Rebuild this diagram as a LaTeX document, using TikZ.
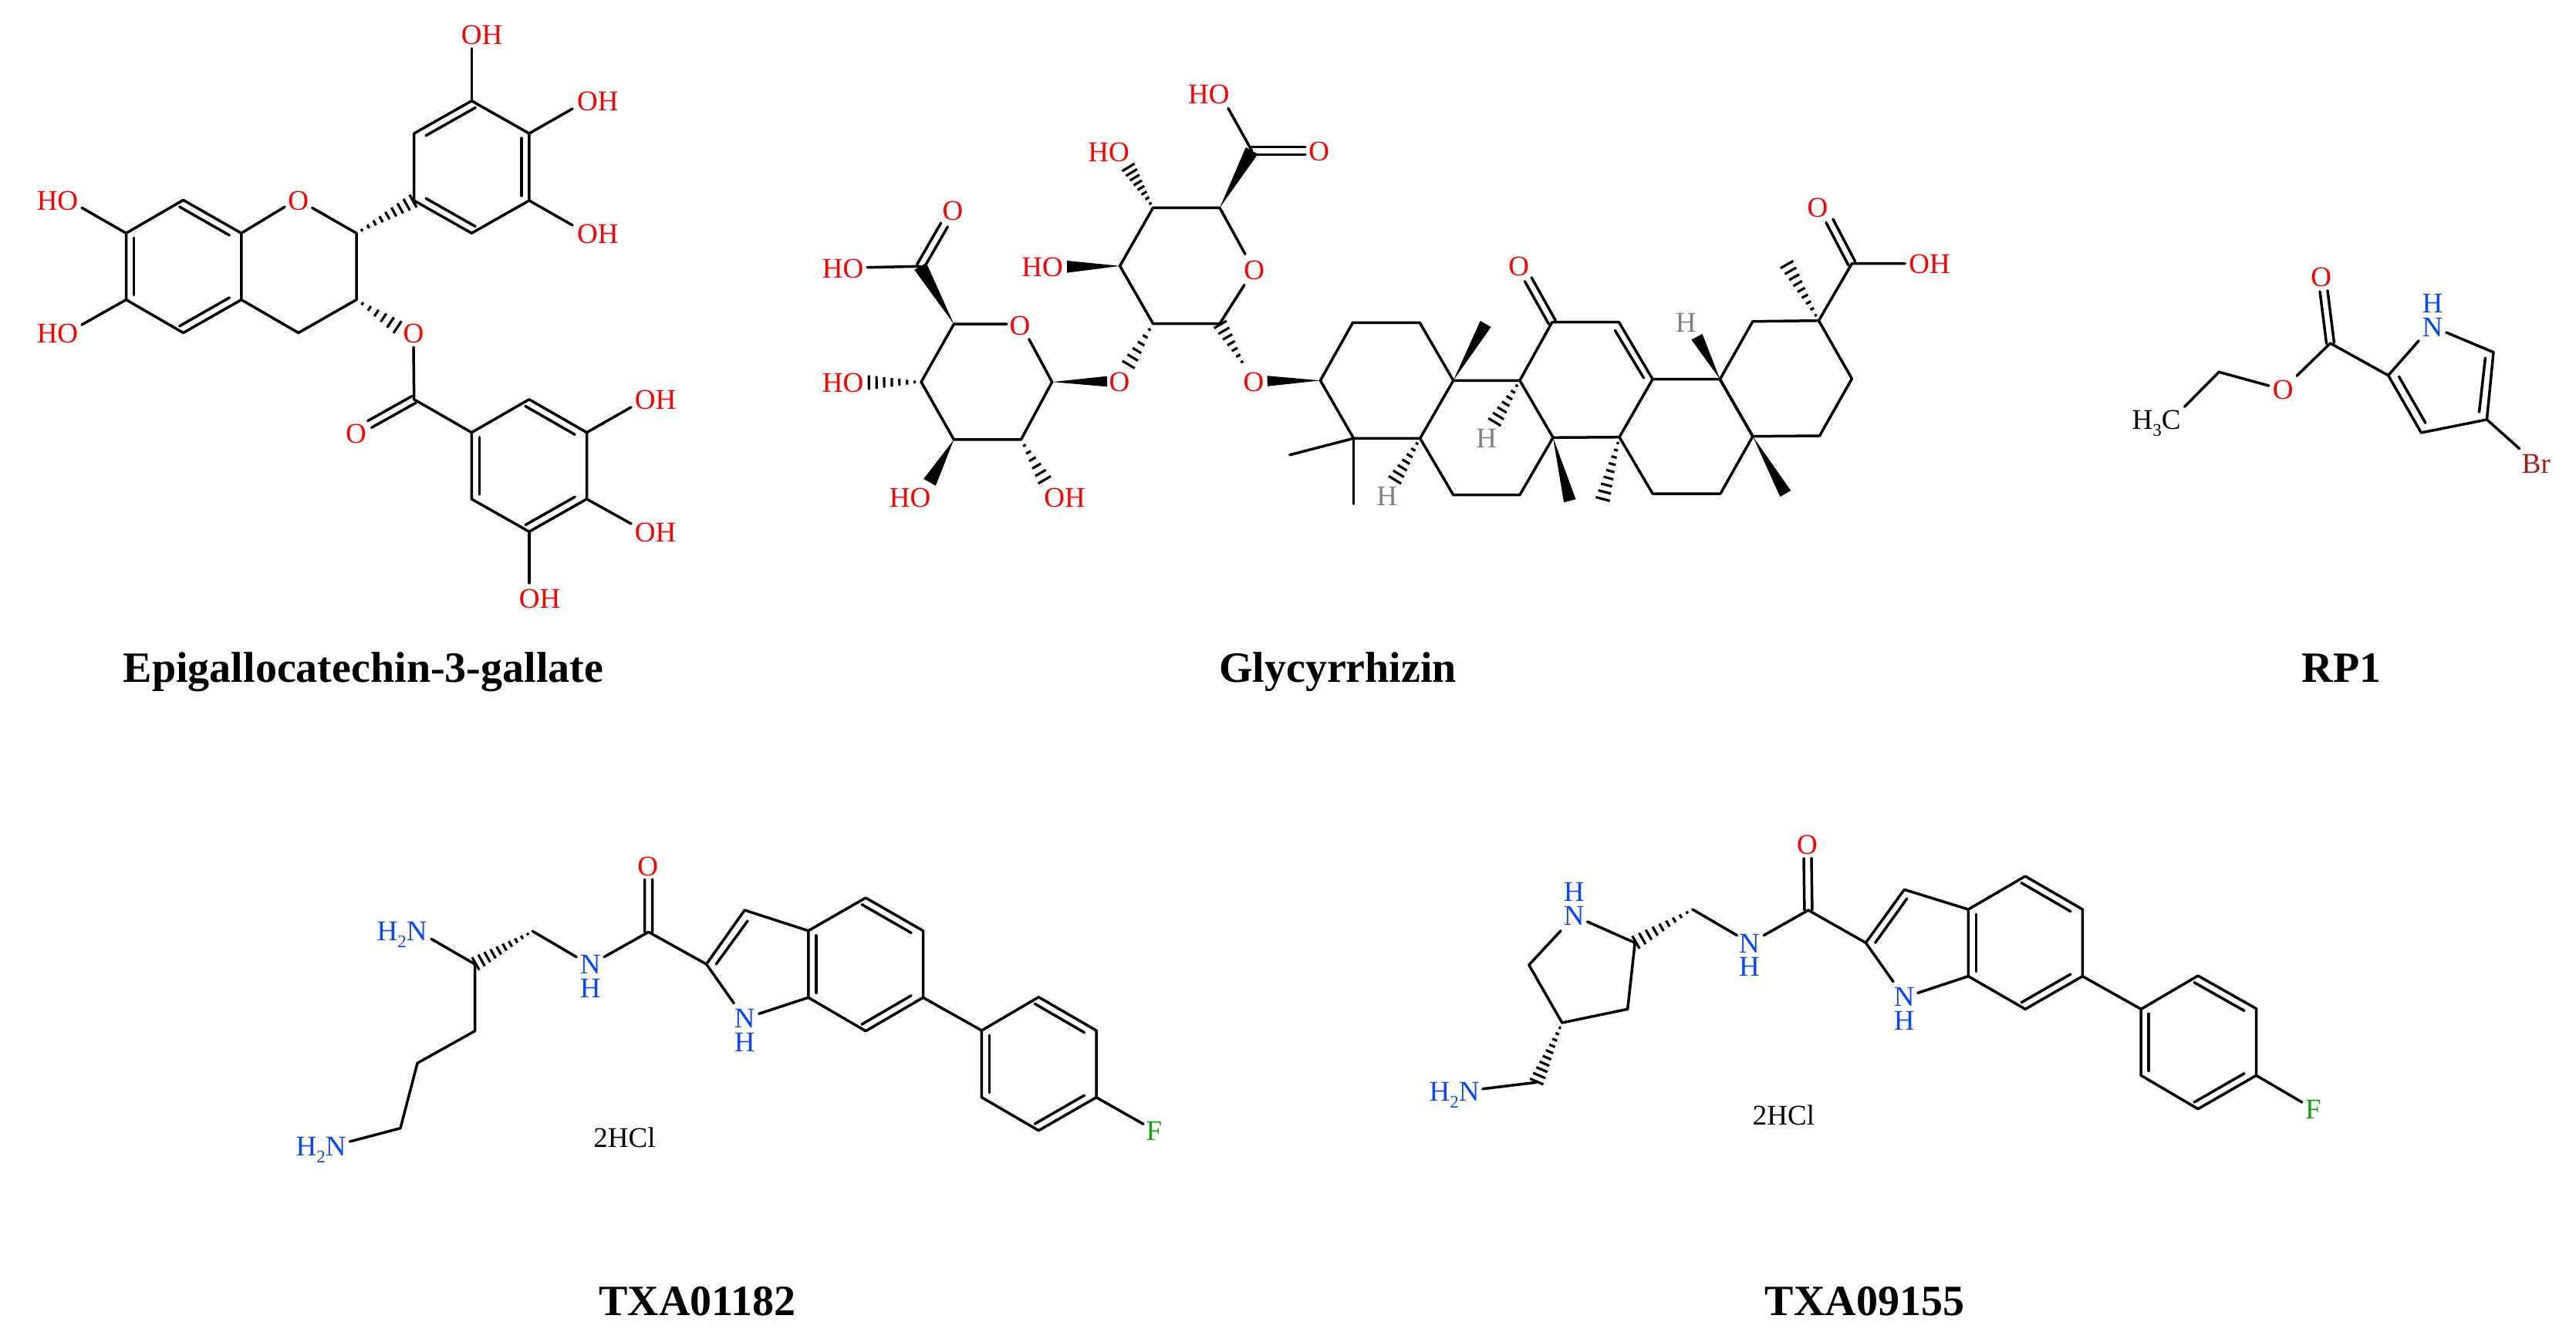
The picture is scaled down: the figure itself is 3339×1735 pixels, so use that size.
\documentclass[tikz,border=0pt]{standalone}
\usepackage{fontspec}
\setmainfont{Liberation Serif}
\usetikzlibrary{calc}
\definecolor{oxred}{RGB}{255,0,0}
\definecolor{nblue}{RGB}{10,70,255}
\definecolor{fgreen}{RGB}{18,160,18}
\definecolor{brred}{RGB}{168,24,24}
\definecolor{hgray}{RGB}{128,128,128}
\newcommand{\atm}[3]{\coordinate (#1) at (#2,#3);}
\newcommand{\sbs}[1]{\raisebox{-0.25em}{\fontsize{11.5}{12}\selectfont #1}}
% hashed bond: narrow end, wide end, stripes
\newcommand{\hashb}[3]{%
  \foreach \hi in {1,...,#3}{%
    \pgfmathsetmacro\hshT{(\hi-0.15)/#3}%
    \pgfmathsetmacro\hshW{0.4+4.4*\hshT}%
    \draw[hashst] ($(#1)!\hshT!(#2)!\hshW pt!90:(#1)$) -- ($(#1)!\hshT!(#2)!\hshW pt!-90:(#1)$);
  }}
% solid wedge: tip, base, half width
\newcommand{\wedgeb}[3]{%
  \fill[black] (#1) -- ($(#2)!#3!90:(#1)$) -- ($(#2)!#3!-90:(#1)$) -- cycle;}
% inner line of a ring double bond: from, to, side angle, t0, t1
\newcommand{\dbl}[5]{%
  \draw[bond] ($(#1)!#4!(#2)!5pt!#3:(#2)$) -- ($(#1)!#5!(#2)!5pt!#3:(#2)$);}
% symmetric double bond
\newcommand{\dbo}[2]{%
  \draw[bond] ($(#1)!2.5pt!90:(#2)$) -- ($(#2)!2.5pt!-90:(#1)$);
  \draw[bond] ($(#1)!2.5pt!-90:(#2)$) -- ($(#2)!2.5pt!90:(#1)$);}
\tikzset{
  bond/.style={line width=1.75pt,line cap=round,line join=round,black},
  hashst/.style={line width=1.6pt,line cap=butt,black},
  lab/.style={inner sep=0pt,outer sep=0pt,text height=12.2pt,text depth=0pt,font=\fontsize{18.5}{20}\selectfont},
  labO/.style={lab,text=oxred},
  labN/.style={lab,text=nblue},
  labNH/.style={inner sep=0pt,outer sep=0pt,align=center,text=nblue,font=\fontsize{18.5}{15.4}\selectfont},
  labH/.style={lab,text=hgray},
  labF/.style={lab,text=fgreen},
  labBr/.style={lab,text=brred},
  labK/.style={lab,text=black},
  title/.style={inner sep=0pt,outer sep=0pt,text height=18.5pt,text depth=0pt,font=\fontsize{28}{30}\selectfont\bfseries,text=black},
}
\begin{document}
\begin{tikzpicture}[x=0.5pt,y=-0.5pt]
\path[use as bounding box,fill=white] (0,0) rectangle (3339,1735);

%%% Epigallocatechin-3-gallate
\atm{a1}{163.5}{302.3}\atm{a2}{237.6}{259.4}\atm{a3}{312.8}{302.3}\atm{a4}{312.8}{388.6}\atm{a5}{237.6}{431.5}\atm{a6}{163.5}{388.6}
\atm{eO1a}{369}{268.3}\atm{eO1b}{404.6}{269.4}\atm{eC2}{462}{302.3}\atm{eC3}{462}{388.6}\atm{eC4}{386.8}{431.5}
\atm{b1}{536.7}{260}\atm{b2}{536.7}{173}\atm{b3}{611.3}{130.8}\atm{b4}{685.9}{173}\atm{b5}{685.9}{260}\atm{b6}{611.3}{302.3}
\atm{e1}{611.3}{62.8}\atm{e2}{742}{141}\atm{e3}{742}{292}\atm{e4}{106}{269.3}\atm{e5}{106}{421}
\atm{eH}{516.6}{425}\atm{eOs}{536}{450}\atm{eC}{536.7}{517.8}\atm{eOd}{479.2}{550}
\atm{g1}{611.3}{560.7}\atm{g2}{685.9}{517.8}\atm{g3}{760.5}{560.7}\atm{g4}{760.5}{647}\atm{g5}{685.9}{689.3}\atm{g6}{611.3}{647}
\atm{e6}{818}{528}\atm{e7}{818}{679}\atm{e8}{685.9}{755.8}
\node[labO] (eLO1) at (386.8,259.9) {O};
\node[labO] (eL1) at (624.5,45.5) {OH};
\node[labO] (eL2) at (774.9,130.8) {OH};
\node[labO] (eL3) at (774.9,303) {OH};
\node[labO] (eL4) at (74.5,260) {HO};
\node[labO] (eL5) at (74.5,432.5) {HO};
\node[labO] (eLO2) at (536,432.5) {O};
\node[labO] (eLO3) at (461.4,562) {O};
\node[labO] (eL6) at (849.5,517.8) {OH};
\node[labO] (eL7) at (849.5,690.4) {OH};
\node[labO] (eL8) at (699.7,776) {OH};
\draw[bond] (a1)--(a2)--(a3)--(a4)--(a5)--(a6)--cycle;
\draw[bond] (a3)--(eO1a);
\draw[bond] (eO1b)--(eC2)--(eC3)--(eC4)--(a4);
\draw[bond] (b1)--(b2)--(b3)--(b4)--(b5)--(b6)--cycle;
\draw[bond] (g1)--(g2)--(g3)--(g4)--(g5)--(g6)--cycle;
\draw[bond] (b3)--(e1);\draw[bond] (b4)--(e2);\draw[bond] (b5)--(e3);
\draw[bond] (a1)--(e4);\draw[bond] (a6)--(e5);
\draw[bond] (eOs)--(eC)--(g1);
\draw[bond] (g3)--(e6);\draw[bond] (g4)--(e7);\draw[bond] (g5)--(e8);
\dbo{eC}{eOd}
\dbl{a2}{a3}{-90}{0}{0.86}\dbl{a5}{a4}{90}{0}{0.86}\dbl{a1}{a6}{90}{0.07}{0.93}
\dbl{b3}{b2}{90}{0}{0.86}\dbl{b6}{b1}{-90}{0}{0.86}\dbl{b4}{b5}{-90}{0.07}{0.93}
\dbl{g2}{g3}{-90}{0}{0.86}\dbl{g5}{g4}{90}{0}{0.86}\dbl{g1}{g6}{90}{0.07}{0.93}
\hashb{eC2}{b1}{9}
\hashb{eC3}{eH}{6}

%%% Glycyrrhizin, sugars
\atm{u1}{1494.5}{269.4}\atm{u2}{1581}{269.4}\atm{u3}{1581}{419.5}\atm{u4}{1494.5}{419.5}\atm{u5}{1451.6}{344.8}
\atm{uOa}{1614}{329.5}\atm{uOb}{1613}{369.3}
\atm{uC}{1622.6}{195.4}\atm{uCe}{1692}{195.4}\atm{uHe}{1592}{140.5}
\atm{uH1}{1462}{216}\atm{uH2}{1383}{345.8}\atm{uH3}{1462}{474}\atm{uH4}{1613.7}{476}
\atm{tC}{1711.4}{493.3}\atm{tW}{1642.7}{494}
\atm{l1}{1236.4}{420.2}\atm{lOa}{1305}{420.2}\atm{lOb}{1333.8}{439.7}\atm{l2}{1363.7}{495.2}\atm{l3}{1323.5}{569.9}\atm{l4}{1236.4}{569.9}\atm{l5}{1194}{495.2}
\atm{lC}{1193}{345.3}\atm{lCe}{1224}{291.5}\atm{lHe}{1124}{346.7}
\atm{lH1}{1124.8}{496}\atm{lH2}{1205}{625.3}\atm{lH3}{1354.7}{623.4}\atm{lW}{1435}{494.5}
\node[labO] (gO1) at (1625.7,349.8) {O};
\node[labO] (gO2) at (1709.6,196.7) {O};
\node[labO] (gL1) at (1566.8,122) {HO};
\node[labO] (gL2) at (1437,197.5) {HO};
\node[labO] (gL3) at (1351,346) {HO};
\node[labO] (gO3) at (1451,495) {O};
\node[labO] (gO4) at (1625,495) {O};
\node[labO] (gO5) at (1322,421.8) {O};
\node[labO] (gO6) at (1235,273) {O};
\node[labO] (gL4) at (1092.7,347.9) {HO};
\node[labO] (gL5) at (1092.7,496.4) {HO};
\node[labO] (gL6) at (1179.7,645.3) {HO};
\node[labO] (gL7) at (1380,645.3) {OH};
\draw[bond] (uOa)--(u2)--(u1)--(u5)--(u4)--(u3)--(uOb);
\draw[bond] (uC)--(uHe);
\dbo{uC}{uCe}
\wedgeb{u2}{uC}{4.5pt}
\hashb{u1}{uH1}{8}
\wedgeb{u5}{uH2}{3.9pt}
\hashb{u4}{uH3}{6}
\hashb{uH4}{u3}{7}
\wedgeb{tC}{tW}{3.4pt}
\draw[bond] (lOa)--(l1)--(l5)--(l4)--(l3)--(l2)--(lOb);
\draw[bond] (lC)--(lHe);
\dbo{lC}{lCe}
\wedgeb{l1}{lC}{4.5pt}
\hashb{l5}{lH1}{7}
\wedgeb{l4}{lH2}{4.5pt}
\hashb{l3}{lH3}{6}
\wedgeb{l2}{lW}{3.4pt}

%%% Glycyrrhizin, triterpene
\atm{A2}{1753.5}{418.3}\atm{A3}{1840.2}{418.3}\atm{A4}{1883.8}{493.3}\atm{A5}{1840.7}{568.3}\atm{A6}{1754.6}{568.3}
\atm{B1}{1883.8}{641.7}\atm{B2}{1969.9}{641.7}\atm{B3}{2013}{567.3}\atm{B4}{1969.9}{493.3}
\atm{C1}{2011.8}{417.7}\atm{C2}{2098.5}{417.7}\atm{C3}{2142.1}{491.7}\atm{C4}{2099}{566.7}
\atm{D1}{2142.1}{640}\atm{D2}{2230}{640}\atm{D3}{2271.9}{565.7}\atm{D4}{2229.4}{491.7}
\atm{E1}{2271.9}{416.7}\atm{E2}{2357.4}{415.7}\atm{E3}{2400.4}{491}\atm{E4}{2358.5}{565}
\atm{Me1}{1671.7}{589.8}\atm{Me2}{1754.6}{653.3}\atm{Me3}{1925.7}{420}\atm{Me4}{2034.8}{649.3}\atm{Me5}{2077.2}{648.3}\atm{Me6}{2314.3}{640}\atm{Me7}{2315.5}{341.7}
\atm{Hb1}{1936.6}{548.3}\atm{Hb2}{1807.4}{623.3}\atm{Hb3}{2199.5}{436.7}
\atm{C1e}{1980.8}{362.3}\atm{Cx}{2400.4}{341.7}\atm{Cxe}{2371.4}{286.3}\atm{Cxh}{2469.3}{341.7}
\atm{Cia}{2093.3}{428.3}\atm{Cib}{2130.6}{490}
\node[labO] (tO1) at (1968.7,345) {O};
\node[labO] (tO2) at (2356,269) {O};
\node[labO] (tL1) at (2501,342.3) {OH};
\node[labH] (tH1) at (1926.8,568.3) {H};
\node[labH] (tH2) at (1797.7,643.3) {H};
\node[labH] (tH3) at (2185.2,418.3) {H};
\draw[bond] (tC)--(A2)--(A3)--(A4)--(A5)--(A6)--cycle;
\draw[bond] (A4)--(B4)--(B3)--(B2)--(B1)--(A5);
\draw[bond] (B4)--(C1)--(C2)--(C3)--(C4)--(B3);
\draw[bond] (C3)--(D4)--(D3)--(D2)--(D1)--(C4);
\draw[bond] (D4)--(E1)--(E2)--(E3)--(E4)--(D3)--(D4);
\draw[bond] (A6)--(Me1);\draw[bond] (A6)--(Me2);
\draw[bond] (Cia)--(Cib);
\draw[bond] (E2)--(Cx)--(Cxh);
\dbo{C1}{C1e}\dbo{Cx}{Cxe}
\wedgeb{A4}{Me3}{4pt}
\wedgeb{B3}{Me4}{4pt}
\wedgeb{D3}{Me6}{4pt}
\wedgeb{D4}{Hb3}{4pt}
\hashb{B4}{Hb1}{7}
\hashb{A5}{Hb2}{7}
\hashb{C4}{Me5}{9}
\hashb{E2}{Me7}{9}

%%% RP1
\atm{R1}{3095.6}{486.7}\atm{R2}{3138.3}{561}\atm{R3}{3223.4}{544}\atm{R4}{3232}{456.7}
\atm{RNa}{3135.2}{441.7}\atm{RNb}{3170.8}{431}
\atm{Ri1}{3109.5}{488.3}\atm{Ri2}{3143.9}{548.3}\atm{Ri3}{3213.5}{534.3}\atm{Ri4}{3221.4}{464}
\atm{RBe}{3265.7}{581.7}\atm{RC}{3020.5}{445}\atm{ROe}{3012}{377.3}\atm{ROs}{2977}{487.3}
\atm{RCH}{2876.2}{482.3}\atm{ROt}{2940.6}{500}\atm{RMe}{2831.5}{527.3}
\node[labNH] (rN) at (3153,409.2) {H\\N};
\node[labO] (rO1) at (3008.7,359.3) {O};
\node[labO] (rO2) at (2959.2,505.7) {O};
\node[labBr] (rBr) at (3287.4,601.7) {Br};
\node[labK] (rMe) at (2795,544.3) {H\sbs{3}C};
\draw[bond] (RC)--(R1)--(R2)--(R3)--(R4)--(RNb);
\draw[bond] (R1)--(RNa);
\draw[bond] (Ri1)--(Ri2);\draw[bond] (Ri3)--(Ri4);
\draw[bond] (R3)--(RBe);
\dbo{RC}{ROe}
\draw[bond] (RC)--(ROs);
\draw[bond] (ROt)--(RCH)--(RMe);

%%% TXA01182
\atm{kP1}{615.5}{1250}\atm{kNae}{559}{1217.3}\atm{kP2}{690.4}{1207.3}\atm{kNe1}{747.2}{1240.7}\atm{kNe2}{783}{1240.7}
\atm{kC}{840.6}{1208.3}\atm{kOe}{840.5}{1140}\atm{kI2}{915.6}{1250}\atm{kI3}{965.2}{1180}\atm{kIa}{928.2}{1250}\atm{kIb}{969}{1194}
\atm{kNi}{951.3}{1300.7}\atm{kNj}{983.7}{1314.3}
\atm{kS1}{615.5}{1336.7}\atm{kS2}{541}{1378.3}\atm{kS3}{519}{1462.7}\atm{kS4}{453.4}{1480}
\atm{kI3a}{1047.8}{1206.7}\atm{kI7a}{1047.8}{1293.3}\atm{kI4}{1122.1}{1164}\atm{kI5}{1196.5}{1206.7}\atm{kI6}{1196.5}{1293.3}\atm{kI7}{1122.1}{1336.7}
\atm{kp1}{1272.4}{1336}\atm{kp2}{1346.3}{1292.7}\atm{kp3}{1421}{1336}\atm{kp4}{1421}{1422.7}\atm{kp5}{1346.3}{1465.7}\atm{kp6}{1272.4}{1422.7}\atm{kFe}{1482}{1457.3}
\node[labN] (kN1) at (521,1207.5) {H\sbs{2}N};
\node[labN] (kN2) at (416,1486) {H\sbs{2}N};
\node[labNH] (kN3) at (765.3,1266.2) {N\\H};
\node[labO] (kO) at (839.8,1123.3) {O};
\node[labNH] (kN4) at (965.2,1336) {N\\H};
\node[labF] (kF) at (1495.8,1466.7) {F};
\node[labK] (kS) at (809.5,1475) {2HCl};
\draw[bond] (kNae)--(kP1)--(kS1)--(kS2)--(kS3)--(kS4);
\hashb{kP2}{kP1}{10}
\draw[bond] (kP2)--(kNe1);
\draw[bond] (kNe2)--(kC)--(kI2)--(kI3)--(kI3a);
\dbo{kC}{kOe}
\draw[bond] (kIa)--(kIb);
\draw[bond] (kI2)--(kNi);\draw[bond] (kNj)--(kI7a);
\draw[bond] (kI3a)--(kI4)--(kI5)--(kI6)--(kI7)--(kI7a)--cycle;
\dbl{kI4}{kI5}{-90}{0}{0.86}\dbl{kI7}{kI6}{90}{0}{0.86}\dbl{kI3a}{kI7a}{90}{0.07}{0.93}
\draw[bond] (kI6)--(kp1);
\draw[bond] (kp1)--(kp2)--(kp3)--(kp4)--(kp5)--(kp6)--cycle;
\dbl{kp2}{kp3}{-90}{0}{0.86}\dbl{kp5}{kp4}{90}{0}{0.86}\dbl{kp1}{kp6}{90}{0.07}{0.93}
\draw[bond] (kp4)--(kFe);

%%% TXA09155
\atm{mQ2}{2119.2}{1222.3}\atm{mQ3}{2109.7}{1308.3}\atm{mQ4}{2024.7}{1326}\atm{mQ5}{1981.8}{1251}
\atm{mNa}{2057.6}{1195}\atm{mNb}{2023}{1206.7}\atm{mP2}{2193.8}{1179}\atm{mNe1}{2251.5}{1212.7}\atm{mNe2}{2286.2}{1212.7}
\atm{mC}{2343.9}{1180}\atm{mOe}{2343}{1112.7}\atm{mI2}{2418.4}{1222.3}\atm{mI3}{2468.3}{1153.3}\atm{mIa}{2430.6}{1222.3}\atm{mIb}{2471.8}{1165}
\atm{mNi}{2454}{1272.7}\atm{mNj}{2485.8}{1287.3}
\atm{mCH}{1991.3}{1403.3}\atm{mNf}{1921.9}{1411.7}
\atm{mI3a}{2551.3}{1179}\atm{mI7a}{2551.3}{1265.7}\atm{mI4}{2625.1}{1136}\atm{mI5}{2699.3}{1179}\atm{mI6}{2699.3}{1265.7}\atm{mI7}{2625.1}{1308.3}
\atm{mp1}{2775.2}{1308.3}\atm{mp2}{2849}{1265}\atm{mp3}{2924.5}{1307.7}\atm{mp4}{2924.5}{1394.3}\atm{mp5}{2849}{1437.7}\atm{mp6}{2775.2}{1394.3}\atm{mFe}{2983.8}{1429}
\node[labNH] (mN1) at (2040.3,1171.7) {H\\N};
\node[labN] (mN2) at (1885,1415) {H\sbs{2}N};
\node[labNH] (mN3) at (2267.5,1238.3) {N\\H};
\node[labO] (mO) at (2342.5,1095) {O};
\node[labNH] (mN4) at (2468.3,1307.8) {N\\H};
\node[labF] (mF) at (2998.3,1438.3) {F};
\node[labK] (mS) at (2312,1446.7) {2HCl};
\draw[bond] (mNa)--(mQ2)--(mQ3)--(mQ4)--(mQ5)--(mNb);
\hashb{mP2}{mQ2}{9}
\hashb{mQ4}{mCH}{10}
\draw[bond] (mCH)--(mNf);
\draw[bond] (mP2)--(mNe1);
\draw[bond] (mNe2)--(mC)--(mI2)--(mI3)--(mI3a);
\dbo{mC}{mOe}
\draw[bond] (mIa)--(mIb);
\draw[bond] (mI2)--(mNi);\draw[bond] (mNj)--(mI7a);
\draw[bond] (mI3a)--(mI4)--(mI5)--(mI6)--(mI7)--(mI7a)--cycle;
\dbl{mI4}{mI5}{-90}{0}{0.86}\dbl{mI7}{mI6}{90}{0}{0.86}\dbl{mI3a}{mI7a}{90}{0.07}{0.93}
\draw[bond] (mI6)--(mp1);
\draw[bond] (mp1)--(mp2)--(mp3)--(mp4)--(mp5)--(mp6)--cycle;
\dbl{mp2}{mp3}{-90}{0}{0.86}\dbl{mp5}{mp4}{90}{0}{0.86}\dbl{mp1}{mp6}{90}{0.07}{0.93}
\draw[bond] (mp4)--(mFe);

%%% Titles
\node[title] (t1) at (471,866) {Epigallocatechin-3-gallate};
\node[title] (t2) at (1734,866) {Glycyrrhizin};
\node[title] (t3) at (3035,866) {RP1};
\node[title] (t4) at (904,1686.5) {TXA01182};
\node[title] (t5) at (2417,1686.5) {TXA09155};
\end{tikzpicture}
\end{document}
